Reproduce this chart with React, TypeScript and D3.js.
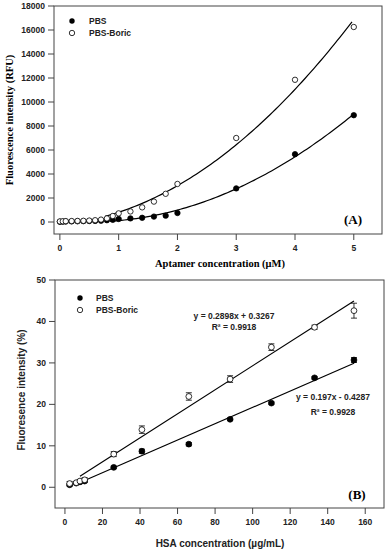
import * as d3 from "d3";

// Panel A: aptamer titration
const aptX = [0, 0.05, 0.1, 0.2, 0.3, 0.4, 0.5, 0.6, 0.7, 0.8, 0.9, 1.0, 1.2, 1.4, 1.6, 1.8, 2.0, 3, 4, 5];
const aptPBS = [20, 30, 40, 50, 60, 70, 80, 90, 110, 150, 180, 250, 300, 350, 450, 530, 750, 2800, 5650, 8900];
const aptBoric = [50, 60, 70, 80, 90, 100, 120, 150, 200, 300, 500, 720, 880, 1220, 1700, 2350, 3170, 7000, 11850, 16250];
const aptYTicks = [0, 2000, 4000, 6000, 8000, 10000, 12000, 14000, 16000, 18000];
const aptXTicks = [0, 1, 2, 3, 4, 5];

// Panel B: HSA response
const hsaX = [2.5, 6, 8, 10.5, 26, 41, 66, 88, 110, 133, 154];
const hsaPBS = [0.6, 1.0, 1.3, 1.5, 4.8, 8.7, 10.4, 16.4, 20.3, 26.4, 30.7];
const hsaPBSErr = [0.3, 0.2, 0.2, 0.3, 0.3, 0.5, 0.4, 0.3, 0.3, 0.3, 0.6];
const hsaBoric = [0.9, 1.1, 1.5, 1.8, 8.0, 13.9, 21.9, 26.1, 33.8, 38.6, 42.6];
const hsaBoricErr = [0.5, 0.3, 0.3, 0.5, 0.6, 0.9, 0.9, 0.8, 0.8, 0.5, 1.8];
const hsaYTicks = [0, 10, 20, 30, 40, 50];
const hsaXTicks = [0, 20, 40, 60, 80, 100, 120, 140, 160];
const fitBoric = { slope: 0.2898, icpt: 0.3267, label: "y = 0.2898x + 0.3267", r2: "R² = 0.9918" };
const fitPBS = { slope: 0.197, icpt: -0.4287, label: "y = 0.197x - 0.4287", r2: "R² = 0.9928" };

const SANS = "'Liberation Sans', Arial, sans-serif";
const SERIF = "'Liberation Serif', 'Times New Roman', serif";

// least squares quadratic fit
function quadFit(xs: number[], ys: number[]) {
  const S = (f: (x: number, y: number) => number) => d3.sum(xs, (x, i) => f(x, ys[i]));
  const m = [
    [S((x) => x ** 4), S((x) => x ** 3), S((x) => x ** 2)],
    [S((x) => x ** 3), S((x) => x ** 2), S((x) => x)],
    [S((x) => x ** 2), S((x) => x), xs.length],
  ];
  const v = [S((x, y) => x * x * y), S((x, y) => x * y), S((x, y) => y)];
  const det = (a: number[][]) =>
    a[0][0] * (a[1][1] * a[2][2] - a[1][2] * a[2][1]) -
    a[0][1] * (a[1][0] * a[2][2] - a[1][2] * a[2][0]) +
    a[0][2] * (a[1][0] * a[2][1] - a[1][1] * a[2][0]);
  const D = det(m);
  const col = (k: number) => m.map((r, i) => r.map((c, j) => (j === k ? v[i] : c)));
  return [det(col(0)) / D, det(col(1)) / D, det(col(2)) / D];
}

function PanelA() {
  const x = d3.scaleLinear().domain([-0.1, 5.48]).range([54, 382]);
  const y = d3.scaleLinear().domain([-1000, 18000]).range([234, 6]);
  const line = d3.line<number>().x((d) => x(d[0])).y((d) => y(d[1]));
  const curve = (xs: number[], ys: number[], x0: number) => {
    const [a, b, c] = quadFit(xs, ys);
    const pts = d3.range(x0, 5.001, 0.05).map((t) => [t, a * t * t + b * t + c]);
    return line(pts as any);
  };
  return (
    <g>
      <rect x={54} y={6} width={328} height={228} fill="none" stroke="#444" strokeWidth={1} />
      {aptYTicks.map((t) => (
        <g key={t}>
          <line x1={48} x2={54} y1={y(t)} y2={y(t)} stroke="#444" />
          <text x={45} y={y(t) + 3} textAnchor="end" fontFamily={SANS} fontWeight="bold" fontSize={8.5} fill="#222">{t}</text>
        </g>
      ))}
      {aptXTicks.map((t) => (
        <g key={t}>
          <line x1={x(t)} x2={x(t)} y1={234} y2={240} stroke="#444" />
          <text x={x(t)} y={251} textAnchor="middle" fontFamily={SANS} fontWeight="bold" fontSize={8.5} fill="#222">{t}</text>
        </g>
      ))}
      <path d={curve(aptX, aptBoric, 0.77) || ""} fill="none" stroke="#000" strokeWidth={1.2} />
      <path d={curve(aptX, aptPBS, 0.85) || ""} fill="none" stroke="#000" strokeWidth={1.2} />
      {aptX.map((v, i) => (
        <circle key={"p" + i} cx={x(v)} cy={y(aptPBS[i])} r={2.7} fill="#000" stroke="#000" strokeWidth={0.8} />
      ))}
      {aptX.map((v, i) => (
        <circle key={"b" + i} cx={x(v)} cy={y(aptBoric[i])} r={2.7} fill="#fff" stroke="#000" strokeWidth={0.8} />
      ))}
      <circle cx={72} cy={21} r={2.7} fill="#000" />
      <text x={89} y={24} fontFamily={SANS} fontWeight="bold" fontSize={8.5} fill="#222">PBS</text>
      <circle cx={72} cy={33} r={2.7} fill="#fff" stroke="#000" strokeWidth={0.8} />
      <text x={89} y={36} fontFamily={SANS} fontWeight="bold" fontSize={8.5} fill="#222">PBS-Boric</text>
      <text x={353} y={224} textAnchor="middle" fontFamily={SERIF} fontWeight="bold" fontSize={13}>(A)</text>
      <text x={220} y={267} textAnchor="middle" fontFamily={SERIF} fontWeight="bold" fontSize={10.5}>Aptamer concentration (μM)</text>
      <text transform="translate(13,120) rotate(-90)" textAnchor="middle" fontFamily={SERIF} fontWeight="bold" fontSize={10.5}>Fluorescence intensity (RFU)</text>
    </g>
  );
}

function PanelB() {
  const x = d3.scaleLinear().domain([-5.3, 170]).range([55, 384]);
  const y = d3.scaleLinear().domain([-5, 50]).range([508, 280]);
  const fitLine = (f: { slope: number; icpt: number }) =>
    d3.line<number>().x((t) => x(t)).y((t) => y(f.slope * t + f.icpt))([8, 154]) || "";
  const series = (vals: number[], errs: number[], fill: string, key: string) =>
    hsaX.map((v, i) => (
      <g key={key + i}>
        <line x1={x(v)} x2={x(v)} y1={y(vals[i] - errs[i])} y2={y(vals[i] + errs[i])} stroke="#000" strokeWidth={0.8} />
        <line x1={x(v) - 3} x2={x(v) + 3} y1={y(vals[i] - errs[i])} y2={y(vals[i] - errs[i])} stroke="#000" strokeWidth={0.8} />
        <line x1={x(v) - 3} x2={x(v) + 3} y1={y(vals[i] + errs[i])} y2={y(vals[i] + errs[i])} stroke="#000" strokeWidth={0.8} />
        <circle cx={x(v)} cy={y(vals[i])} r={2.9} fill={fill} stroke="#000" strokeWidth={0.8} />
      </g>
    ));
  return (
    <g>
      <rect x={55} y={280} width={329} height={228} fill="none" stroke="#444" strokeWidth={1} />
      {hsaYTicks.map((t) => (
        <g key={t}>
          <line x1={49} x2={55} y1={y(t)} y2={y(t)} stroke="#444" />
          <text x={46} y={y(t) + 3} textAnchor="end" fontFamily={SANS} fontWeight="bold" fontSize={8.5} fill="#222">{t}</text>
        </g>
      ))}
      {hsaXTicks.map((t) => (
        <g key={t}>
          <line x1={x(t)} x2={x(t)} y1={508} y2={514} stroke="#444" />
          <text x={x(t)} y={525} textAnchor="middle" fontFamily={SANS} fontWeight="bold" fontSize={8.5} fill="#222">{t}</text>
        </g>
      ))}
      <path d={fitLine(fitBoric)} fill="none" stroke="#000" strokeWidth={1.2} />
      <path d={fitLine(fitPBS)} fill="none" stroke="#000" strokeWidth={1.2} />
      {series(hsaPBS, hsaPBSErr, "#000", "p")}
      {series(hsaBoric, hsaBoricErr, "#fff", "b")}
      <circle cx={80} cy={298} r={2.7} fill="#000" />
      <text x={96} y={301} fontFamily={SANS} fontWeight="bold" fontSize={8.5} fill="#222">PBS</text>
      <circle cx={80} cy={310} r={2.7} fill="#fff" stroke="#000" strokeWidth={0.8} />
      <text x={96} y={313} fontFamily={SANS} fontWeight="bold" fontSize={8.5} fill="#222">PBS-Boric</text>
      <text x={234} y={319} textAnchor="middle" fontFamily={SANS} fontWeight="bold" fontSize={8.5} fill="#222">{fitBoric.label}</text>
      <text x={234} y={330} textAnchor="middle" fontFamily={SANS} fontWeight="bold" fontSize={8.5} fill="#222">{fitBoric.r2}</text>
      <text x={333} y={400} textAnchor="middle" fontFamily={SANS} fontWeight="bold" fontSize={8.5} fill="#222">{fitPBS.label}</text>
      <text x={333} y={415} textAnchor="middle" fontFamily={SANS} fontWeight="bold" fontSize={8.5} fill="#222">{fitPBS.r2}</text>
      <text x={357} y={499} textAnchor="middle" fontFamily={SERIF} fontWeight="bold" fontSize={13}>(B)</text>
      <text x={220} y={547} textAnchor="middle" fontFamily={SANS} fontWeight="bold" fontSize={10} fill="#222">HSA concentration (µg/mL)</text>
      <text transform="translate(25,390) rotate(-90)" textAnchor="middle" fontFamily={SANS} fontWeight="bold" fontSize={10} fill="#222">Fluoresence intensity (%)</text>
    </g>
  );
}

export default function App() {
  return (
    <svg width={392} height={550} style={{ position: "absolute", left: 0, top: 0, background: "#fff" }}>
      <PanelA />
      <PanelB />
    </svg>
  );
}
